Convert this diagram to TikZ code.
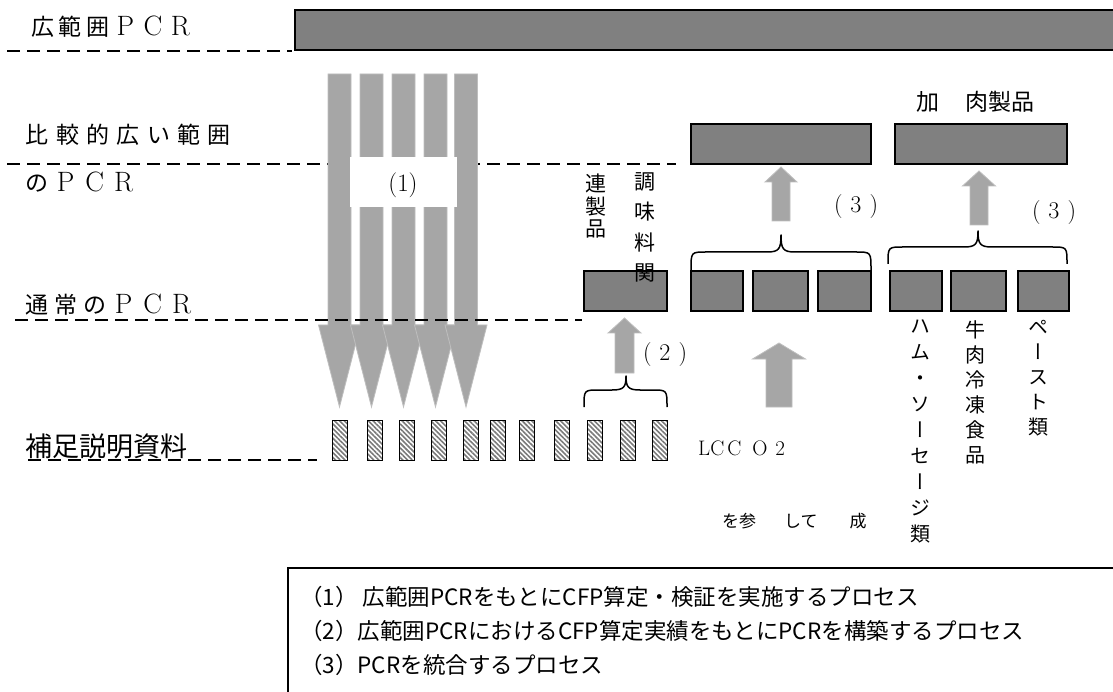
\documentclass[tikz,border=0pt]{standalone}
\usepackage{fontspec}
\newfontfamily\jp{Noto Sans CJK JP}
\newfontfamily\jpv[RawFeature=+vert]{Noto Sans CJK JP}
\usetikzlibrary{patterns.meta}
\definecolor{boxgray}{HTML}{808080}
\definecolor{arrgray}{HTML}{A6A6A6}
\definecolor{arredge}{HTML}{BEBEBE}
\definecolor{hatchgray}{HTML}{7A7A7A}
\newcommand\fs[1]{\fontsize{#1}{#1}\selectfont}
\newdimen\spcw
\def\spcend{\spcend}
\def\spcloop#1{\def\spctmp{#1}\ifx\spctmp\spcend\else\makebox[\spcw]{#1}\expandafter\spcloop\fi}
\newcommand\spaced[2]{\spcw=#1\relax\spcloop#2\spcend}
\newcommand\lm[1]{{\rmfamily\fs{28}#1}}
\begin{document}
\begin{tikzpicture}[x=1pt,y=-1pt,
  darkbox/.style={draw=black, line width=1.3pt, fill=boxgray, inner sep=0pt, outer sep=0pt, anchor=north west, minimum height=40pt},
  hatchbox/.style={draw=black, line width=1.3pt, pattern={Lines[angle=-45,distance=3.4pt,line width=1.6pt]}, pattern color=hatchgray, inner sep=0pt, anchor=north west, minimum width=15pt, minimum height=40pt},
  garrow/.style={fill=arrgray, draw=arredge, line width=0.8pt},
  dline/.style={line width=1.3pt, dash pattern=on 13pt off 7pt},
  bracel/.style={line width=1.5pt, line join=round},
  lbl/.style={inner sep=0pt, anchor=west},
  vcol/.style={inner sep=0pt, anchor=north, align=center},
  paren/.style={inner sep=0pt, font=\rmfamily\fs{24}}
]
\useasboundingbox (0,0) rectangle (1113,692);
\fill[white] (0,0) rectangle (1113,692);
\clip (0,0) rectangle (1113,692);

% level labels
\node[lbl, font=\jp\fs{23}] (l1) at (29,27) {\spaced{27.5pt}{広範囲{\lm{P}}{\lm{C}}{\lm{R}}}};
\node[lbl, font=\jp\fs{23}] (l2a) at (22,135) {\spaced{30.3pt}{比較的広い範囲}};
\node[lbl, font=\jp\fs{23}] (l2b) at (22,182) {\spaced{29pt}{の{\lm{P}}{\lm{C}}{\lm{R}}}};
\node[lbl, font=\jp\fs{23}] (l3) at (22,305) {\spaced{29pt}{通常の{\lm{P}}{\lm{C}}{\lm{R}}}};
\node[lbl, font=\jp\fs{27}] (l4) at (25,446) {補足説明資料};

% dashed level lines
\draw[dline] (7,51) -- (292,51);
\draw[dline] (7,164) -- (676,164);
\draw[dline] (28,460) -- (317,460);

% wide PCR bar
\node[darkbox, minimum width=840pt] (wide) at (295,10) {};

% process (1) arrows
\foreach \c in {339.5,371.5,403.5,435.5,466}{
  \filldraw[garrow] (\c-11.5,74) -- (\c+11.5,74) -- (\c+11.5,325) -- (\c+21,325) -- (\c,407) -- (\c-21,325) -- (\c-11.5,325) -- cycle;
}
\node[fill=white, inner sep=0pt, anchor=north west, minimum width=107pt, minimum height=50pt] (p1box) at (350,157) {};
\node[paren, font=\rmfamily\fs{25}] (p1) at (403,185) {(1)};
\draw[dline] (15,320) -- (582,320);

% supplementary material blocks
\foreach \x [count=\i] in {332,367,399,431,463,490,519,554,587,620,652}{
  \node[hatchbox] (s\i) at (\x,420) {};
}

% normal PCR boxes
\node[darkbox, minimum width=83pt] (nA) at (584,271) {};
\node[darkbox, minimum width=52pt] (nB1) at (691,271) {};
\node[darkbox, minimum width=55pt] (nB2) at (753,271) {};
\node[darkbox, minimum width=53pt] (nB3) at (818,271) {};
\node[darkbox, minimum width=52pt] (nC1) at (890,271) {};
\node[darkbox, minimum width=55pt] (nC2) at (951,271) {};
\node[darkbox, minimum width=51pt] (nC3) at (1018,271) {};

% broader PCR boxes
\node[darkbox, minimum width=180pt] (u1) at (691,124) {};
\node[darkbox, minimum width=172pt] (u2) at (895,124) {};

% braces
\def\ubrace#1#2#3#4#5#6{%
  \draw[bracel] (#1,#4) .. controls (#1,#5) .. (#1+15,#5) -- (#3-14,#5)
    .. controls (#3-2,#5) and (#3,#5-3) .. (#3,#6)
    .. controls (#3,#5-3) and (#3+2,#5) .. (#3+14,#5) -- (#2-15,#5)
    .. controls (#2,#5) .. (#2,#4);}
\ubrace{584}{667}{626}{407}{390}{376}
\ubrace{691}{871}{781}{270}{252}{235}
\ubrace{888}{1067}{978}{264}{247}{231}

% up arrows
\def\uparr#1#2#3#4#5#6{%
  \filldraw[garrow] (#1-#2,#6) -- (#1-#2,#5) -- (#1-#3,#5) -- (#1,#4) -- (#1+#3,#5) -- (#1+#2,#5) -- (#1+#2,#6) -- cycle;}
\uparr{624.5}{9.5}{16.5}{318}{333}{373}
\uparr{781}{9}{16}{167}{182}{221}
\uparr{979}{9}{16.5}{171}{186}{225}
\uparr{779}{13}{26.5}{343}{359}{407}

% process labels
\node[paren] (p2) at (665,355) {(\hspace{8pt}2\hspace{8pt})};
\node[paren] (p3a) at (856,207) {(\hspace{8pt}3\hspace{8pt})};
\node[paren] (p3b) at (1054,213) {(\hspace{8pt}3\hspace{8pt})};

% product labels
\node[lbl, font=\jp\fs{23}] (meat) at (916,102) {加\hspace{26pt}肉製品};
\node[vcol, font=\jpv\fontsize{21}{30.5}\selectfont] (chomi1) at (645,172) {調\\味\\料\\関};
\node[vcol, font=\jpv\fontsize{21}{22.5}\selectfont] (chomi2) at (596,174) {連\\製\\品};
\node[vcol, font=\jpv\fontsize{20}{26}\selectfont] (ham) at (920,320) {ハ\\ム\\・\\ソ\\ー\\セ\\ー\\ジ\\類};
\node[vcol, font=\jpv\fontsize{20}{25}\selectfont] (beef) at (975,320) {牛\\肉\\冷\\凍\\食\\品};
\node[vcol, font=\jpv\fontsize{20}{25}\selectfont] (paste) at (1038,320) {ペ\\ー\\ス\\ト\\類};
\node[lbl, font=\rmfamily\fs{21}] (lcco) at (698,448) {LC\hspace{3pt}C\hspace{11pt}O\hspace{8pt}2};
\node[lbl, font=\jp\fs{17}] (ref) at (722,521) {を参\hspace{28pt}して\hspace{32pt}成};

% legend
\node[draw=black, line width=2pt, fill=none, inner sep=0pt, anchor=north west, minimum width=900pt, minimum height=200pt] (legend) at (287,567) {};
\node[lbl, font=\jp\fs{22.5}] (r1) at (300,597) {（1） 広範囲PCRをもとにCFP算定・検証を実施するプロセス};
\node[lbl, font=\jp\fs{22.5}] (r2) at (300,631) {（2）広範囲PCRにおけるCFP算定実績をもとにPCRを構築するプロセス};
\node[lbl, font=\jp\fs{22.5}] (r3) at (300,665) {（3）PCRを統合するプロセス};
\end{tikzpicture}
\end{document}
